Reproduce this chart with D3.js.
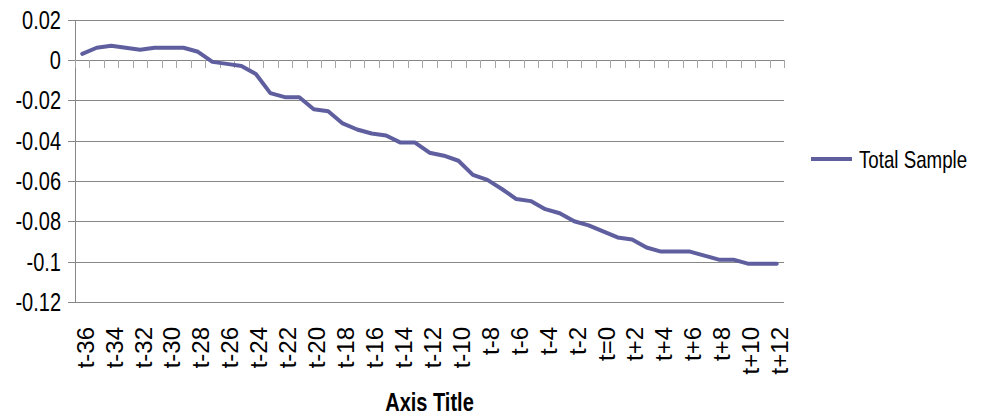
<!DOCTYPE html>
<html>
<head>
<meta charset="utf-8">
<script src="https://cdn.jsdelivr.net/npm/d3@7"></script>
<style>
  html, body { margin: 0; padding: 0; background: #fff; }
  svg { display: block; }
  text { font-family: "Liberation Sans", Arial, sans-serif; }
</style>
</head>
<body>
<svg id="chart" width="990" height="417"></svg>
<script>
// Event-time categories, t-36 ... t+12
const categories = [
  "t-36","t-35","t-34","t-33","t-32","t-31","t-30","t-29","t-28","t-27",
  "t-26","t-25","t-24","t-23","t-22","t-21","t-20","t-19","t-18","t-17",
  "t-16","t-15","t-14","t-13","t-12","t-11","t-10","t-9","t-8","t-7",
  "t-6","t-5","t-4","t-3","t-2","t-1","t=0","t+1","t+2","t+3",
  "t+4","t+5","t+6","t+7","t+8","t+9","t+10","t+11","t+12"
];

// Cumulative value for the whole sample
const totalSample = [
  0.003, 0.006, 0.007, 0.006, 0.005, 0.006, 0.006, 0.006, 0.004, -0.001,
  -0.002, -0.003, -0.007, -0.0165, -0.0185, -0.0185, -0.0245, -0.0255, -0.0315, -0.0345,
  -0.0365, -0.0375, -0.041, -0.041, -0.046, -0.0475, -0.05, -0.057, -0.0595, -0.064,
  -0.069, -0.07, -0.074, -0.076, -0.08, -0.082, -0.085, -0.088, -0.089, -0.093,
  -0.095, -0.095, -0.095, -0.097, -0.099, -0.099, -0.101, -0.101, -0.101
];

// Value axis ticks and their labels
const yTicks = [0.02, 0, -0.02, -0.04, -0.06, -0.08, -0.1, -0.12];
const yTickLabels = ["0.02", "0", "-0.02", "-0.04", "-0.06", "-0.08", "-0.1", "-0.12"];

const seriesName = "Total Sample";
const axisTitle = "Axis Title";

const svg = d3.select("#chart");
const plotLeft = 75, plotRight = 784, plotTop = 19.5, plotBottom = 302;

const x = d3.scaleBand().domain(categories).range([plotLeft, plotRight]).padding(0);
const y = d3.scaleLinear().domain([-0.12, 0.02]).range([plotBottom, plotTop]);

const gridColor = "#878787";
const tickColor = "#a6a6a6";
const lineColor = "#5f5f9f";

// Horizontal gridlines
svg.append("g")
  .selectAll("line")
  .data(yTicks)
  .join("line")
  .attr("x1", plotLeft - 7).attr("x2", plotRight)
  .attr("y1", d => Math.round(y(d)) + 0.5).attr("y2", d => Math.round(y(d)) + 0.5)
  .attr("stroke", gridColor).attr("stroke-width", 1);

// Vertical value axis line
svg.append("line")
  .attr("x1", plotLeft + 0.5).attr("x2", plotLeft + 0.5)
  .attr("y1", Math.round(y(0.02))).attr("y2", Math.round(y(-0.12)) + 1)
  .attr("stroke", gridColor).attr("stroke-width", 1);

// Value axis labels (condensed horizontally)
svg.append("g")
  .selectAll("text")
  .data(yTicks)
  .join("text")
  .attr("transform", d => `translate(61,${y(d)}) scale(0.8,1)`)
  .attr("dy", "0.36em")
  .attr("text-anchor", "end")
  .attr("font-size", 25)
  .attr("fill", "#000")
  .text((d, i) => yTickLabels[i]);

// Category tick marks hanging from the zero line, at band boundaries
const boundaries = categories.map(c => x(c)).concat([x(categories[categories.length - 1]) + x.bandwidth()]);
svg.append("g")
  .selectAll("line")
  .data(boundaries)
  .join("line")
  .attr("x1", d => Math.round(d) + 0.5).attr("x2", d => Math.round(d) + 0.5)
  .attr("y1", Math.round(y(0))).attr("y2", Math.round(y(0)) + 8)
  .attr("stroke", tickColor).attr("stroke-width", 1);

// Category labels, every other one, rotated
svg.append("g")
  .selectAll("text")
  .data(categories.filter((c, i) => i % 2 === 0))
  .join("text")
  .attr("transform", d => `translate(${x(d) + x.bandwidth() / 2 + 3},327) rotate(-90)`)
  .attr("dy", "0.35em")
  .attr("text-anchor", "end")
  .attr("font-size", 24)
  .attr("fill", "#000")
  .text(d => d);

// Series line
const line = d3.line()
  .x((d, i) => x(categories[i]) + x.bandwidth() / 2)
  .y(d => y(d));

svg.append("path")
  .datum(totalSample)
  .attr("d", line)
  .attr("fill", "none")
  .attr("stroke", lineColor)
  .attr("stroke-width", 4)
  .attr("stroke-linejoin", "round")
  .attr("stroke-linecap", "round");

// Legend
const legend = svg.append("g");
legend.append("line")
  .attr("x1", 811).attr("x2", 852)
  .attr("y1", 159).attr("y2", 159)
  .attr("stroke", lineColor).attr("stroke-width", 4);
legend.append("text")
  .attr("transform", "translate(859,159) scale(0.78,1)")
  .attr("dy", "0.36em")
  .attr("font-size", 24)
  .attr("fill", "#000")
  .text(seriesName);

// Axis title
svg.append("text")
  .attr("transform", `translate(${(plotLeft + plotRight) / 2},411) scale(0.8,1)`)
  .attr("text-anchor", "middle")
  .attr("font-size", 25)
  .attr("font-weight", "bold")
  .attr("fill", "#000")
  .text(axisTitle);
</script>
</body>
</html>
